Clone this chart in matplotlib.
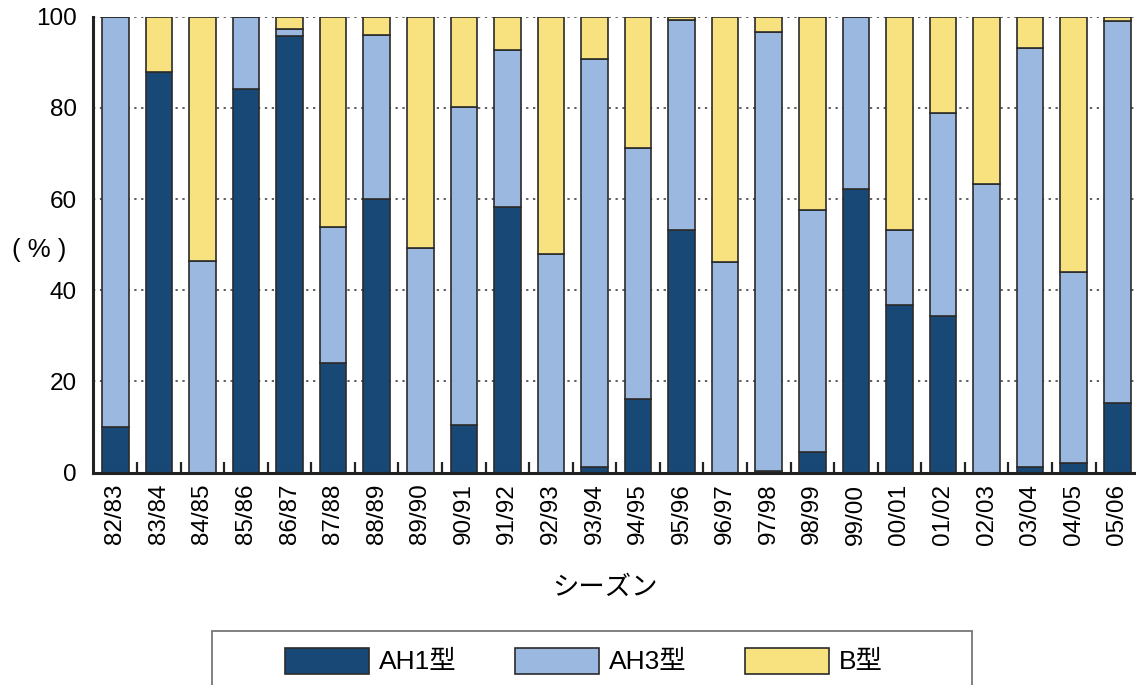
import numpy as np
import matplotlib
matplotlib.use("Agg")
import matplotlib.pyplot as plt
from matplotlib.patches import Rectangle

plt.rcParams['font.family'] = ['Liberation Sans', 'Noto Sans CJK JP', 'DejaVu Sans']

# ---- data (percent share per season) ----
seasons = ['82/83', '83/84', '84/85', '85/86', '86/87', '87/88', '88/89', '89/90',
           '90/91', '91/92', '92/93', '93/94', '94/95', '95/96', '96/97', '97/98',
           '98/99', '99/00', '00/01', '01/02', '02/03', '03/04', '04/05', '05/06']
ah1 = [10.0, 87.9, 0.0, 84.2, 95.7, 24.1, 60.1, 0.0,
       10.4, 58.2, 0.0, 1.2, 16.2, 53.3, 0.0, 0.3,
       4.5, 62.3, 36.8, 34.4, 0.0, 1.1, 2.0, 15.3]
ah3 = [90.0, 0.0, 46.3, 15.8, 1.7, 29.7, 35.9, 49.2,
       69.8, 34.5, 47.9, 89.5, 55.0, 46.0, 46.1, 96.3,
       53.2, 37.7, 16.5, 44.4, 63.4, 92.1, 42.0, 83.7]
b = [0.0, 12.1, 53.7, 0.0, 2.6, 46.2, 4.0, 50.8,
     19.8, 7.3, 52.1, 9.3, 28.8, 0.7, 53.9, 3.4,
     42.3, 0.0, 46.7, 21.2, 36.6, 6.8, 56.0, 1.0]
labels = ['AH1型', 'AH3型', 'B型']
colors = ['#184876', '#9bb9e0', '#f8e27f']

fig = plt.figure(figsize=(11.36, 6.85), dpi=100)
ax = fig.add_axes([0.0823, 0.3102, 0.9204, 0.6654])

x = np.arange(len(seasons))
w = 0.61
ah1 = np.array(ah1)
ah3 = np.array(ah3)
b = np.array(b)
ax.bar(x, ah1, w, color=colors[0], edgecolor='#2b2b2b', linewidth=1.2, label=labels[0], zorder=3)
ax.bar(x, ah3, w, bottom=ah1, color=colors[1], edgecolor='#2b2b2b', linewidth=1.2, label=labels[1], zorder=3)
ax.bar(x, b, w, bottom=ah1 + ah3, color=colors[2], edgecolor='#2b2b2b', linewidth=1.2, label=labels[2], zorder=3)

ax.set_xlim(-0.5, len(seasons) - 0.5)
ax.set_ylim(0, 100)
ax.set_yticks(np.arange(0, 101, 20))
ax.yaxis.grid(True, linestyle=(0, (1.5, 3)), color='#333333', linewidth=1.1, zorder=0)
ax.set_axisbelow(True)

ax.set_xticks(x)
ax.set_xticklabels(seasons, rotation=90, fontsize=17.5)
ax.set_xticks(x[:-1] + 0.5, minor=True)
ax.tick_params(axis='x', which='major', length=0, pad=8)
ax.tick_params(axis='x', which='minor', direction='in', length=8, width=1.6, color='#222222')
ax.tick_params(axis='y', length=0, pad=12, labelsize=17.5)

for s in ['top', 'right']:
    ax.spines[s].set_visible(False)
for s in ['left', 'bottom']:
    ax.spines[s].set_linewidth(2.2)
    ax.spines[s].set_color('#222222')
    ax.spines[s].set_zorder(4)

fig.text(39 / 1136, 1 - 250 / 685, '( % )', fontsize=18.5, ha='center', va='center')
fig.text(605 / 1136, 1 - 588 / 685, 'シーズン', fontsize=19, ha='center', va='center')

# legend box (bottom cut off by the figure edge)
fig.patches.append(Rectangle((212 / 1136, -0.05), (972 - 212) / 1136, (0.05 + 1 - 631 / 685),
                             transform=fig.transFigure, facecolor='none',
                             edgecolor='#777777', linewidth=1.3))
h, l = ax.get_legend_handles_labels()
fig.legend(h, l, loc='center', bbox_to_anchor=(584 / 1136, 1 - 661 / 685), ncol=3,
           frameon=False, fontsize=19, handlelength=3.18, handleheight=1.14,
           handletextpad=0.38, columnspacing=2.2)

fig.savefig('out.png', dpi=100)
